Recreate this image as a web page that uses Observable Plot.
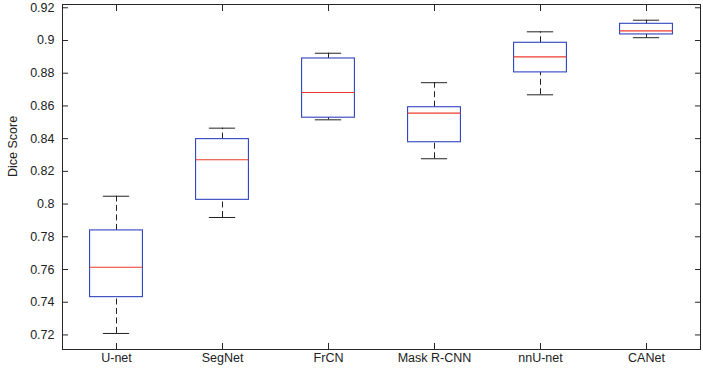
<!DOCTYPE html>
<html><head><meta charset="utf-8">
<script src="https://cdn.jsdelivr.net/npm/d3@7"></script>
<script src="https://cdn.jsdelivr.net/npm/@observablehq/plot@0.6"></script>
<style>
body{margin:0;background:#fff}
#chart svg{display:block}
</style>
</head><body><div id="chart"></div>
<script>
const categories = ["U-net", "SegNet", "FrCN", "Mask R-CNN", "nnU-net", "CANet"];
const whiskerLow  = [0.7209, 0.7918, 0.8515, 0.8277, 0.8668, 0.9017];
const quartile1   = [0.7431, 0.8026, 0.8528, 0.8378, 0.8805, 0.9037];
const medians     = [0.7614, 0.8271, 0.8682, 0.8556, 0.8900, 0.9059];
const quartile3   = [0.7839, 0.8397, 0.8890, 0.8592, 0.8986, 0.9102];
const whiskerHigh = [0.8048, 0.8464, 0.8922, 0.8742, 0.9053, 0.9124];
const yTicks = [0.72, 0.74, 0.76, 0.78, 0.80, 0.82, 0.84, 0.86, 0.88, 0.90, 0.92];
const yTickLabels = ["0.72", "0.74", "0.76", "0.78", "0.8", "0.82", "0.84", "0.86", "0.88", "0.9", "0.92"];
const yLabel = "Dice Score";

const rows = categories.map((c, i) => ({
  cat: c, lo: whiskerLow[i], q1: quartile1[i], med: medians[i], q3: quartile3[i], hi: whiskerHigh[i]
}));

const W = 703, H = 374;
const mL = 62, mR = 3, mT = 4, mB = 25;
const bw = (W - mL - mR) / categories.length;
const boxInset = bw / 4;
const capInset = bw * 3 / 8;
const font = "'Liberation Sans', Arial, Helvetica, sans-serif";
const axisColor = "#262626";
const boxColor = "#2f43c0";
const medColor = "#ee3a2e";

const chart = Plot.plot({
  width: W, height: H,
  marginLeft: mL, marginRight: mR, marginTop: mT, marginBottom: mB,
  style: {fontFamily: font, fontSize: "12.5px", color: axisColor, background: "#fff"},
  x: {type: "band", domain: categories, padding: 0},
  y: {domain: [0.7111, 0.922]},
  marks: [
    Plot.frame({stroke: axisColor, strokeWidth: 1}),
    // whiskers (dashed)
    Plot.ruleX(rows, {x: "cat", y1: "q3", y2: "hi", stroke: "#222", strokeDasharray: "6,3.5"}),
    Plot.ruleX(rows, {x: "cat", y1: "lo", y2: "q1", stroke: "#222", strokeDasharray: "6,3.5"}),
    // caps
    Plot.tickY(rows, {x: "cat", y: "hi", stroke: "#222", insetLeft: capInset, insetRight: capInset}),
    Plot.tickY(rows, {x: "cat", y: "lo", stroke: "#222", insetLeft: capInset, insetRight: capInset}),
    // boxes
    Plot.rect(rows, {x: "cat", y1: "q1", y2: "q3", fill: "none", stroke: boxColor, strokeWidth: 1.1, insetLeft: boxInset, insetRight: boxInset}),
    // medians
    Plot.tickY(rows, {x: "cat", y: "med", stroke: medColor, strokeWidth: 1.1, insetLeft: boxInset, insetRight: boxInset}),
    // axes (inward ticks, MATLAB style)
    Plot.axisY(yTicks, {anchor: "left", tickSize: -6, tickPadding: 14, stroke: axisColor, fill: "#222",
      tickFormat: (d) => yTickLabels[yTicks.indexOf(d)], fontSize: 12.5, label: null}),
    Plot.axisY(yTicks, {anchor: "right", tickSize: -6, text: null, label: null, stroke: axisColor}),
    Plot.axisX(categories, {anchor: "bottom", tickSize: -6, tickPadding: 10, stroke: axisColor, fill: "#222", fontSize: 12.5, label: null}),
    Plot.axisX(categories, {anchor: "top", tickSize: -6, text: null, label: null, stroke: axisColor}),
    Plot.text([yLabel], {text: (d) => d, frameAnchor: "left", rotate: -90, dx: -50, fontSize: 12.5, fill: "#222"})
  ]
});
document.getElementById("chart").append(chart);
</script>
</body></html>
